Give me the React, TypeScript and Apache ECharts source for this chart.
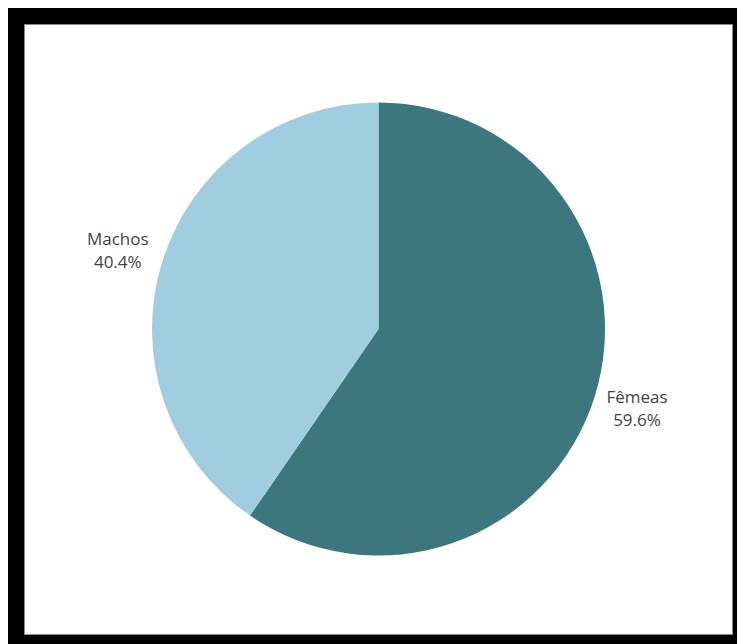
import React, { useEffect, useRef } from "react";
import * as echarts from "echarts";

const categories = ["Fêmeas", "Machos"];
const values = [59.6, 40.4];
const colors = ["#3b777c", "#a0cde0"];

export default function App() {
  const ref = useRef<HTMLDivElement>(null);
  useEffect(() => {
    if (!ref.current) return;
    const chart = echarts.init(ref.current, undefined, { renderer: "svg" });
    chart.setOption({
      animation: false,
      series: [
        {
          type: "pie",
          center: [353.5, 304],
          radius: 226.5,
          startAngle: 90,
          clockwise: true,
          avoidLabelOverlap: false,
          data: categories.map((c, i) => ({
            name: c,
            value: values[i],
            itemStyle: { color: colors[i] },
          })),
          label: {
            show: true,
            position: "outside",
            formatter: (p: any) => `${p.name}\n${p.value.toFixed(1)}%`,
            fontFamily: "Open Sans",
            fontSize: 17,
            lineHeight: 23,
            color: "#444",
            align: "center",
          },
          labelLine: { show: false, length: 8, length2: 0 },
          labelLayout: (p: any) => {
            const r = p.labelRect;
            const cx = r.x + r.width / 2;
            const cy = r.y + r.height / 2;
            return p.dataIndex === 0
              ? { x: cx - 1, y: cy + 9, align: "center", verticalAlign: "middle" }
              : { x: cx - 1, y: cy - 9, align: "center", verticalAlign: "middle" };
          },
        },
      ],
    });
    return () => chart.dispose();
  }, []);
  return (
    <div style={{ position: "fixed", left: 8, top: 8, width: 729, height: 636, background: "#000" }}>
      <div
        style={{
          position: "absolute",
          left: 16,
          top: 16,
          width: 707,
          height: 609,
          background: "#fff",
          border: "1px solid #888",
        }}
      >
        <div ref={ref} style={{ width: 707, height: 609 }} />
      </div>
    </div>
  );
}
